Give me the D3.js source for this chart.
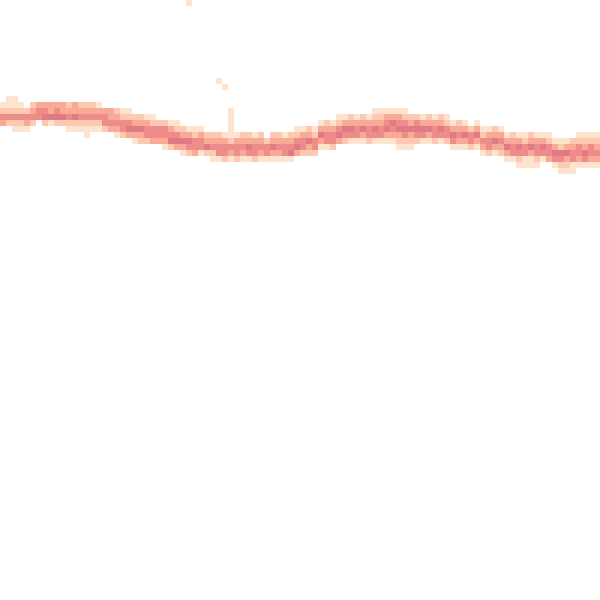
<!DOCTYPE html>
<html>
<head>
<meta charset="utf-8">
<script src="https://cdn.jsdelivr.net/npm/d3@7"></script>
<style>
  html, body { margin: 0; padding: 0; background: #fff; }
  svg { display: block; }
</style>
</head>
<body>
<svg id="chart" width="600" height="600"></svg>
<script>
// Grid size (cells per side)
const gridCols = 100;
const gridRows = 100;

// Density level per column: [first row, levels going down] (0 = empty)
const columnBands = [
  [17,"1243"],[16,"11242"],[16,"112421"],[17,"12421"],[17,"02431"],
  [17,"2342"],[17,"344"],[17,"3452"],[17,"3351"],[17,"3452"],
  [17,"3352"],[17,"23421"],[17,"33521"],[17,"23421"],[17,"234211"],
  [17,"23421"],[17,"13421"],[18,"3442"],[18,"3343"],[18,"23431"],
  [18,"12442"],[18,"12453"],[19,"23531"],[19,"23532"],[19,"13442"],
  [19,"12443"],[20,"2443"],[20,"24431"],[20,"13452"],[20,"12453"],
  [21,"23531"],[21,"13542"],[21,"12443"],[21,"13441"],[22,"2352"],
  [22,"23421"],[22,"23441"],[22,"13442"],[18,"111112431"],[22,"13442"],
  [22,"23431"],[22,"23541"],[22,"13442"],[22,"23431"],[22,"02441"],
  [22,"23531"],[22,"23431"],[22,"13441"],[22,"23451"],[21,"12453"],
  [21,"13442"],[21,"23532"],[21,"12442"],[20,"13531"],[20,"23441"],
  [20,"13442"],[19,"12453"],[19,"13542"],[19,"23541"],[19,"13441"],
  [19,"23531"],[19,"13442"],[18,"123541"],[18,"123441"],[18,"134531"],
  [18,"135431"],[18,"1345321"],[18,"1245421"],[19,"235321"],[19,"24542"],
  [19,"13541"],[19,"23531"],[19,"13442"],[19,"23541"],[19,"12442"],
  [20,"13541"],[20,"23431"],[20,"13531"],[20,"02442"],[20,"13531"],
  [21,"12431"],[21,"13442"],[21,"23531"],[21,"13432"],[22,"13531"],
  [22,"23441"],[22,"135421"],[22,"124411"],[22,"235311"],[22,"134421"],
  [22,"13541"],[22,"12443"],[23,"13541"],[23,"125421"],[23,"135321"],
  [23,"234411"],[22,"124431"],[22,"123541"],[22,"124431"],[22,"123431"]
];

// Isolated sparse cells: [column, row, level]
const outlierCells = [
  [31, 0, 1],
  [36, 13, 1],
  [37, 14, 1]
];

// Colour per density level 1..5
const levelDomain = [1, 2, 3, 4, 5];
const levelColors = ["#fee3ce", "#fdc9b0", "#f9aa96", "#ee8c89", "#e07a86"];

const cells = [];
columnBands.forEach(([top, levels], col) => {
  levels.split("").forEach((ch, i) => {
    const level = +ch;
    if (level > 0) cells.push({ col, row: top + i, level });
  });
});
outlierCells.forEach(([col, row, level]) => cells.push({ col, row, level }));

const svg = d3.select("#chart");
const width = 600, height = 600;

const x = d3.scaleBand().domain(d3.range(gridCols)).range([0, width]).padding(0);
const y = d3.scaleBand().domain(d3.range(gridRows)).range([0, height]).padding(0);
const color = d3.scaleLinear().domain(levelDomain).range(levelColors);

svg.append("rect").attr("width", width).attr("height", height).attr("fill", "#fff");

svg.append("g")
  .selectAll("rect")
  .data(cells)
  .join("rect")
  .attr("x", d => x(d.col))
  .attr("y", d => y(d.row))
  .attr("width", x.bandwidth())
  .attr("height", y.bandwidth())
  .attr("fill", d => color(d.level))
  .attr("shape-rendering", "crispEdges");
</script>
</body>
</html>
